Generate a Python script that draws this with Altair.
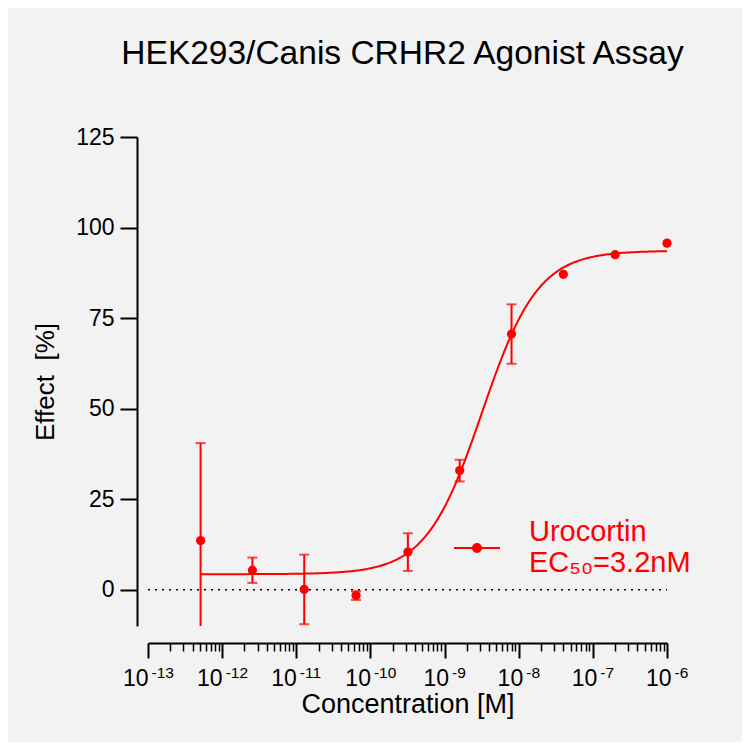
import numpy as np
import pandas as pd
import altair as alt

# ---------------- data ----------------
title_text = "HEK293/Canis CRHR2 Agonist Assay"
series_name = "Urocortin"
ec50_text = "EC₅₀=3.2nM"

conc = [5.12e-13, 2.56e-12, 1.28e-11, 6.4e-11, 3.2e-10, 1.6e-9, 8e-9, 4e-8, 2e-7, 1e-6]
effect = [13.6, 5.4, 0.1, -1.6, 10.4, 32.9, 70.6, 87.1, 92.5, 95.7]
sem = [26.9, 3.5, 9.6, 1.2, 5.2, 3.0, 8.2, 0.0, 0.0, 0.0]

# 4-parameter logistic fit parameters
fit_bottom = 4.3
fit_top = 93.6
fit_ec50 = 3.2e-9
fit_hill = 1.15

x_major = [1e-13, 1e-12, 1e-11, 1e-10, 1e-9, 1e-8, 1e-7, 1e-6]
x_base_label = "10"
x_exponents = ["-13", "-12", "-11", "-10", "-9", "-8", "-7", "-6"]
x_minor = [k * 10.0 ** d for d in range(-13, -6) for k in range(2, 10)]
y_ticks = [0, 25, 50, 75, 100, 125]
x_domain = [1e-13, 1e-6]
y_domain = [-10, 125]

# ---------------- tables ----------------
df_pts = pd.DataFrame({"conc": conc, "effect": effect, "series": series_name})
df_err = pd.DataFrame({"conc": conc, "lo": np.array(effect) - np.array(sem),
                       "hi": np.array(effect) + np.array(sem), "sem": sem})
df_err = df_err[df_err["sem"] > 0]
xs = np.logspace(np.log10(conc[0]), np.log10(conc[-1]), 300)
ys = fit_bottom + (fit_top - fit_bottom) / (1 + 10 ** (fit_hill * (np.log10(fit_ec50) - np.log10(xs))))
df_curve = pd.DataFrame({"conc": xs, "effect": ys})
df_zero = pd.DataFrame({"x1": [x_domain[0]], "x2": [x_domain[1]], "y": [0]})

FONT = "Liberation Sans"
RED = "#ff0000"

xscale = alt.Scale(type="log", domain=x_domain, nice=False)
yscale = alt.Scale(domain=y_domain, nice=False, zero=False)

exp_expr = "[" + ",".join("'%s'" % e for e in x_exponents) + "][round(log(datum.value)/LN10)+13]"
two_digit = "datum.value < 5e-10"

x_axis_main = alt.Axis(
    orient="bottom", values=x_major, labelExpr="'" + x_base_label + "'",
    tickSize=15, tickWidth=2, domainWidth=2, offset=17,
    labelFontSize=23, labelPadding=9, labelFlush=False, labelOverlap=False,
    labelAlign="right",
    labelOffset={"condition": {"test": two_digit, "value": 0}, "value": 4},
    title="Concentration [M]", titleFontSize=27, titlePadding=1,
)
x_axis_exp = alt.Axis(
    orient="bottom", values=x_major, labelExpr=exp_expr,
    tickSize=15, tickOpacity=0, domain=False, offset=17,
    labelFontSize=15.5, labelPadding=7.5, labelFlush=False, labelOverlap=False,
    labelAlign="left",
    labelOffset={"condition": {"test": two_digit, "value": 3}, "value": 7},
    title=None,
)
x_axis_minor = alt.Axis(
    orient="bottom", values=x_minor, tickSize=8, tickWidth=1.5, domain=False,
    labels=False, offset=17, title=None,
)
y_axis = alt.Axis(
    orient="left", values=y_ticks, tickSize=17, tickWidth=2, domainWidth=2, offset=11,
    labelFontSize=23, labelPadding=6, title="Effect\u00a0 [%]", titleFontSize=26,
    titlePadding=17,
)

sym_path = ("M-1,0L1,0M-0.174,0A0.174,0.174,0,1,1,0.174,0"
            "A0.174,0.174,0,1,1,-0.174,0Z")

zero = alt.Chart(df_zero).mark_rule(color="black", strokeDash=[2, 5], strokeWidth=1.5).encode(
    x=alt.X("x1:Q", scale=xscale, axis=x_axis_minor),
    x2="x2:Q",
    y=alt.Y("y:Q", scale=yscale, axis=y_axis),
)

curve = alt.Chart(df_curve).mark_line(color=RED, strokeWidth=2, clip=True).encode(
    x=alt.X("conc:Q", scale=xscale, axis=x_axis_main),
    y=alt.Y("effect:Q", scale=yscale, axis=y_axis),
)

err = alt.Chart(df_err).mark_errorbar(color=RED, thickness=2, size=10, ticks=True, clip=True).encode(
    x=alt.X("conc:Q", scale=xscale, axis=x_axis_exp),
    y=alt.Y("lo:Q", scale=yscale, axis=y_axis),
    y2="hi:Q",
)

pts = alt.Chart(df_pts).mark_circle(size=85, opacity=1).encode(
    x=alt.X("conc:Q", scale=xscale, axis=None),
    y=alt.Y("effect:Q", scale=yscale, axis=y_axis),
    color=alt.Color("series:N", scale=alt.Scale(range=[RED]), legend=alt.Legend(
        orient="none", legendX=305, legendY=387, title=None, padding=0,
        symbolType=sym_path, symbolSize=2116, symbolStrokeWidth=2,
        symbolStrokeColor=RED, symbolFillColor=RED,
        labelFontSize=29, labelFont=FONT, labelColor=RED, labelOffset=28,
        labelBaseline="line-bottom",
        labelLimit=0, labelExpr="[datum.label, '" + ec50_text + "']",
    )),
)

chart = alt.layer(zero, curve, err, pts).resolve_scale(x="shared", y="shared").resolve_axis(
    x="independent"
).properties(
    width=519, height=489,
    title=alt.Title(title_text, fontSize=33.5, font=FONT, fontWeight="normal", color="black",
                    anchor="middle", dx=-5, offset=29, baseline="alphabetic"),
    autosize=alt.AutoSizeParams(type="none"),
    padding={"left": 140, "top": 129, "right": 75, "bottom": 116},
    background="#f2f2f2",
).configure_view(stroke=None).configure_axis(
    grid=False, domainColor="black", tickColor="black", labelColor="black",
    titleColor="black", labelFont=FONT, titleFont=FONT, titleFontWeight="normal",
)

chart.save("out.html", embed_options={"renderer": "svg", "actions": False})
